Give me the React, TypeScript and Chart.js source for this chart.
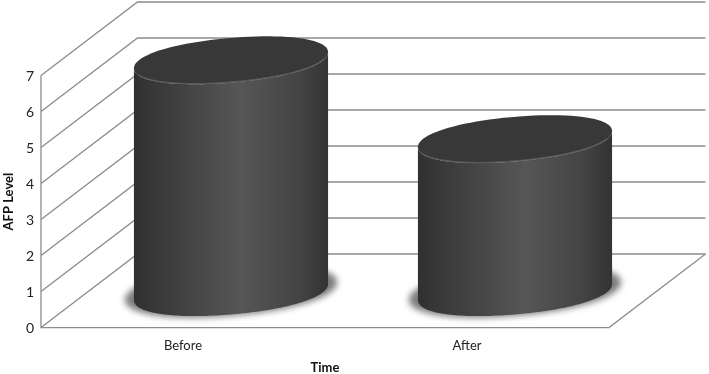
import React, { useEffect, useRef } from "react";
import { Chart, registerables } from "chart.js";

Chart.register(...registerables);

const categories = ["Before", "After"];
const afpLevels = [6.44, 4.25];
const yTicks = [0, 1, 2, 3, 4, 5, 6, 7];

const DEPTH_X = 96.5;
const DEPTH_Y = 73.6;
const MID_DEPTH_X = 48;
const MID_DEPTH_Y = 35.5;
const SHEAR = -0.083;
const MINOR_AXIS = 22.3;
const ROUNDNESS = 2.12;
const LINE = "#8c8c8c";
const FONT = "Lato, 'Open Sans', sans-serif";

// Traces a sheared super-ellipse between two parameter angles.
function trace(ctx: any, cx: number, cy: number, a: number, b: number, from: number, to: number, join: boolean) {
  const steps = 90;
  for (let i = 0; i <= steps; i++) {
    const t = from + ((to - from) * i) / steps;
    const c = Math.cos(t);
    const s = Math.sin(t);
    const ux = Math.sign(c) * Math.pow(Math.abs(c), 2 / ROUNDNESS);
    const uy = Math.sign(s) * Math.pow(Math.abs(s), 2 / ROUNDNESS);
    const px = cx + a * ux;
    const py = cy + b * uy + SHEAR * a * ux;
    if (i === 0 && !join) ctx.moveTo(px, py);
    else ctx.lineTo(px, py);
  }
}

const cylinderPlugin = {
  id: "cylinder3d",
  beforeDatasetsDraw(chart: any) {
    const { ctx, scales } = chart;
    const y = scales.y;
    const x = scales.x;
    ctx.save();
    ctx.strokeStyle = LINE;
    ctx.lineWidth = 1.3;
    for (const t of yTicks) {
      const py = y.getPixelForValue(t);
      ctx.beginPath();
      ctx.moveTo(x.left, py);
      ctx.lineTo(x.left + DEPTH_X, py - DEPTH_Y);
      ctx.lineTo(x.right + DEPTH_X, py - DEPTH_Y);
      ctx.stroke();
    }
    const p0 = y.getPixelForValue(0);
    ctx.beginPath();
    ctx.moveTo(x.left, y.getPixelForValue(yTicks[yTicks.length - 1]));
    ctx.lineTo(x.left, p0);
    ctx.lineTo(x.right, p0);
    ctx.lineTo(x.right + DEPTH_X, p0 - DEPTH_Y);
    ctx.stroke();
    ctx.restore();
  },
  afterDatasetsDraw(chart: any) {
    const { ctx } = chart;
    const meta = chart.getDatasetMeta(0);
    meta.data.forEach((bar: any) => {
      const a = bar.width / 2 + 0.5;
      const b = MINOR_AXIS;
      const cx = bar.x + MID_DEPTH_X;
      const baseY = bar.base - MID_DEPTH_Y;
      const topY = bar.y - MID_DEPTH_Y;

      // soft floor shadow
      ctx.save();
      ctx.filter = "blur(3px)";
      ctx.fillStyle = "#7c7c7c";
      ctx.beginPath();
      trace(ctx, cx, baseY - 1, a + 9, b + 2.5, 0, Math.PI * 2, false);
      ctx.closePath();
      ctx.fill();
      ctx.restore();

      // body
      const grad = ctx.createLinearGradient(cx - a, 0, cx + a, 0);
      grad.addColorStop(0, "#303030");
      grad.addColorStop(0.12, "#393939");
      grad.addColorStop(0.55, "#565656");
      grad.addColorStop(0.85, "#444444");
      grad.addColorStop(1, "#333333");
      ctx.fillStyle = grad;
      ctx.beginPath();
      trace(ctx, cx, baseY, a, b, 0, Math.PI, false);
      trace(ctx, cx, topY, a, b, Math.PI, 0, true);
      ctx.closePath();
      ctx.fill();

      // lid
      ctx.fillStyle = "#383838";
      ctx.beginPath();
      trace(ctx, cx, topY, a, b, 0, Math.PI * 2, false);
      ctx.closePath();
      ctx.fill();
      ctx.save();
      ctx.filter = "blur(0.7px)";
      ctx.strokeStyle = "rgba(100,100,100,0.75)";
      ctx.lineWidth = 1.4;
      ctx.beginPath();
      trace(ctx, cx, topY, a - 0.5, b - 0.5, 0.3, Math.PI - 0.3, false);
      ctx.stroke();
      ctx.restore();
    });
  },
};

export default function App() {
  const ref = useRef<HTMLCanvasElement>(null);
  useEffect(() => {
    const chart = new Chart(ref.current as HTMLCanvasElement, {
      type: "bar",
      data: {
        labels: categories,
        datasets: [
          {
            data: afpLevels,
            backgroundColor: "transparent",
            borderWidth: 0,
            barPercentage: 0.68,
            categoryPercentage: 1,
          },
        ],
      },
      options: {
        responsive: false,
        animation: false,
        layout: { padding: { top: 75.6, right: 100, left: 0, bottom: 0 } },
        plugins: { legend: { display: false }, tooltip: { enabled: false } },
        scales: {
          x: {
            grid: { display: false },
            border: { display: false },
            ticks: {
              color: "#222",
              font: { family: FONT, size: 13 },
              padding: 2,
            },
            title: {
              display: true,
              text: "Time",
              color: "#111",
              font: { family: FONT, size: 13, weight: "bold" },
              padding: { top: 0, bottom: -2 },
            },
            afterFit: (s: any) => {
              s.height = 46.4;
            },
          },
          y: {
            min: 0,
            max: 7,
            grid: { display: false, drawTicks: false },
            border: { display: false },
            afterBuildTicks: (s: any) => {
              s.ticks = yTicks.map((v) => ({ value: v }));
            },
            ticks: {
              color: "#222",
              font: { family: FONT, size: 14 },
              padding: 7,
              labelOffset: 1,
            },
            title: {
              display: true,
              text: "AFP Level",
              color: "#111",
              font: { family: FONT, size: 13, weight: "bold" },
              padding: { top: 1, bottom: 0 },
            },
            afterFit: (s: any) => {
              s.width = 41;
            },
          },
        },
      },
      plugins: [cylinderPlugin],
    } as any);
    return () => chart.destroy();
  }, []);
  return (
    <div style={{ position: "fixed", left: 0, top: 0, width: 709, height: 374, background: "#fff" }}>
      <canvas ref={ref} width={709} height={374} style={{ display: "block" }} />
    </div>
  );
}
